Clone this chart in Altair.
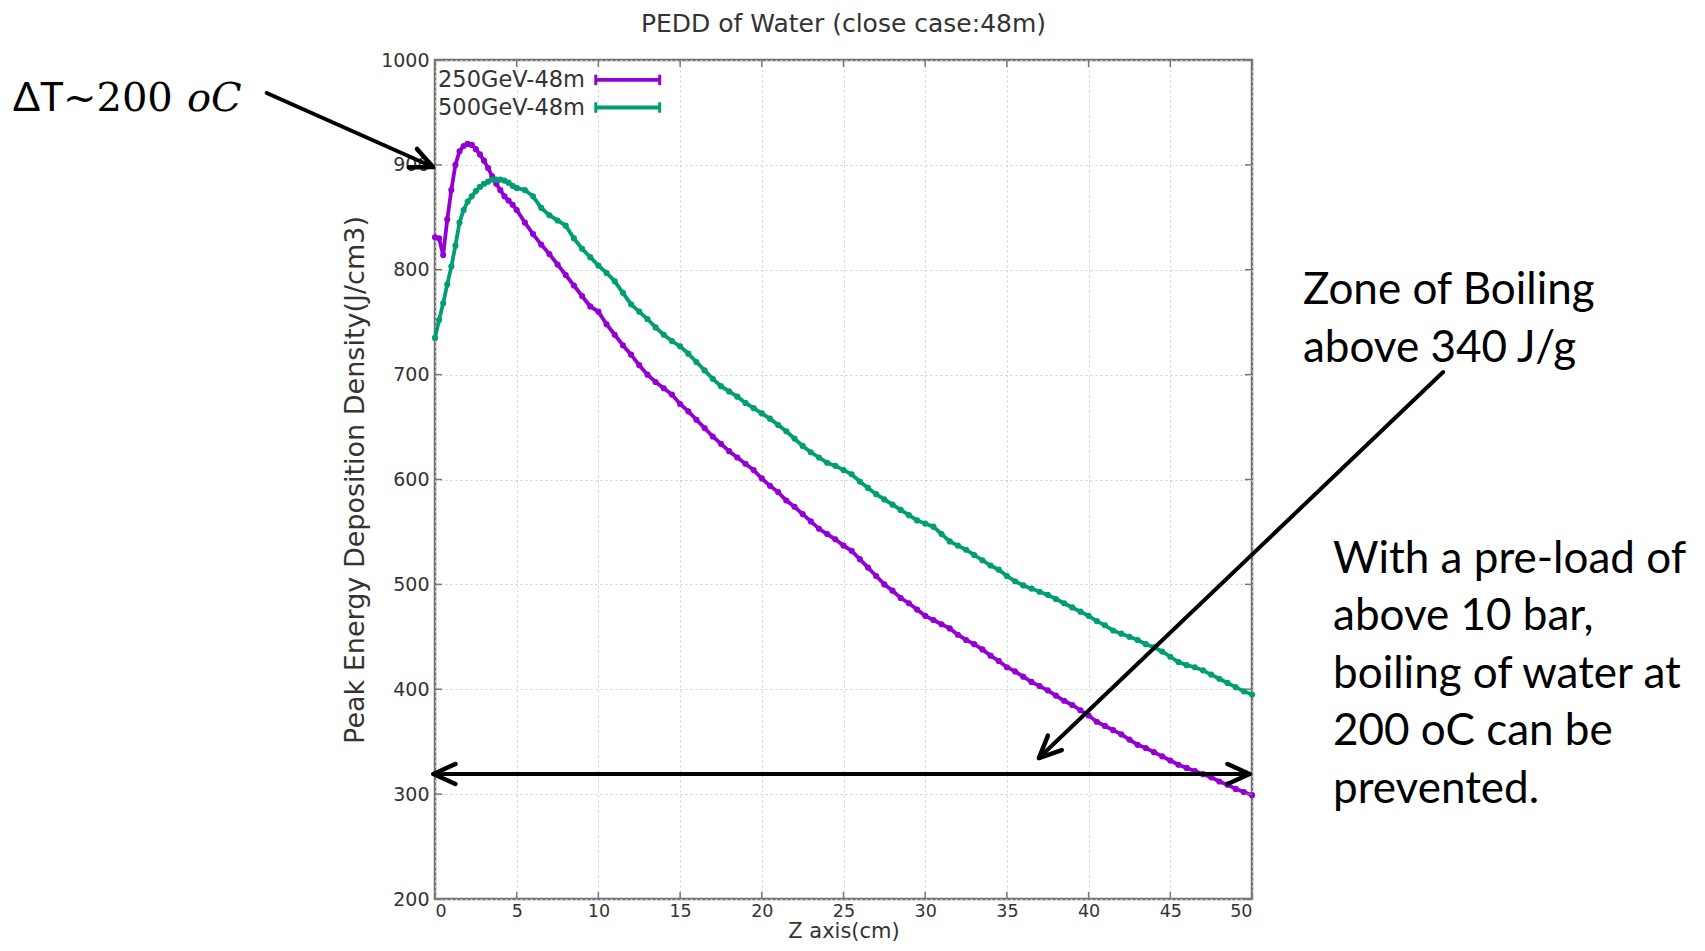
import math
import altair as alt
import pandas as pd

# ---------------- data ----------------
z_cm = [round(0.25 * i, 2) for i in range(21)] + [round(5.5 + 0.5 * i, 2) for i in range(90)]

pedd_250gev = [831, 830, 814, 848, 876, 900, 913, 918, 920, 919, 915, 910, 904, 897, 889, 882, 876, 870, 866, 862, 857,
               845, 834, 824, 815, 805, 795, 785, 775, 765, 760,
               748, 738, 728, 719, 709, 700, 693, 687, 681, 672, 665, 657, 649, 641, 634, 627, 621, 615, 609, 601,
               594, 588, 580, 574, 567, 560, 553, 548, 543, 537, 532, 524, 516, 508, 500, 494, 487, 482, 476, 470,
               466, 462, 458, 452, 447, 443, 438, 432, 427, 421, 417, 412, 407, 403, 399, 394, 389, 385, 380, 375,
               369, 365, 361, 357, 352, 347, 344, 340, 336, 332, 328, 325, 322, 319, 316, 312, 309, 305, 302, 299]

pedd_500gev = [735, 752, 768, 786, 803, 823, 845, 857, 865, 870, 875, 879, 882, 884, 886, 886, 886, 885, 883, 880, 878,
               876, 870, 859, 852, 847, 842, 830, 820, 812, 804,
               797, 789, 778, 767, 760, 753, 745, 738, 732, 727, 720, 712, 704, 696, 689, 684, 679, 673, 668, 663,
               658, 652, 646, 639, 632, 626, 621, 616, 613, 609, 605, 598, 592, 586, 581, 576, 571, 566, 561, 558,
               555, 548, 541, 537, 533, 528, 523, 518, 514, 508, 503, 499, 496, 493, 490, 486, 482, 478, 474, 470,
               465, 461, 456, 453, 450, 447, 443, 440, 436, 431, 426, 423, 421, 418, 414, 410, 406, 402, 398, 395]

series_names = ["250GeV-48m", "500GeV-48m"]
series_colors = ["#9400D3", "#009E73"]
x_ticks = [0, 5, 10, 15, 20, 25, 30, 35, 40, 45, 50]
y_ticks = [200, 300, 400, 500, 600, 700, 800, 900, 1000]

title_text = "PEDD of Water (close case:48m)"
x_title = "Z axis(cm)"
y_title = "Peak Energy Deposition Density(J/cm3)"

# annotation content (positions in data units of the chart's own axes)
note_boil = "Zone of Boiling\nabove 340 J/g"
note_preload = "With a pre-load of\nabove 10 bar,\nboiling of water at\n200 oC can be\nprevented."
arrows = [  # start (x, y) -> tip (x, y)
    {"id": "dT", "x": -10.3, "y": 968.5, "xt": -0.12, "yt": 898.0},
    {"id": "zone", "x": 61.7, "y": 702.5, "xt": 36.96, "yt": 334.4},
    {"id": "span_r", "x": 24.9, "y": 319.2, "xt": 49.85, "yt": 319.2},
    {"id": "span_l", "x": 24.9, "y": 319.2, "xt": -0.1, "yt": 319.2},
]

# ---------------- layout ----------------
W, H = 817, 839
X_DOM, Y_DOM = [0, 50], [200, 1000]
PX_X = W / (X_DOM[1] - X_DOM[0])
PX_Y = H / (Y_DOM[1] - Y_DOM[0])

xs = alt.Scale(domain=X_DOM, nice=False, zero=False)
ys = alt.Scale(domain=Y_DOM, nice=False, zero=False)
color = alt.Color("series:N", scale=alt.Scale(domain=series_names, range=series_colors), legend=None)

rows = []
for name, vals in zip(series_names, [pedd_250gev, pedd_500gev]):
    for z, v in zip(z_cm, vals):
        rows.append({"z": z, "pedd": v, "series": name})
df = pd.DataFrame(rows)

base = alt.Chart(df)
lines = base.mark_line(strokeWidth=3.8).encode(
    x=alt.X("z:Q", scale=xs,
            axis=alt.Axis(values=x_ticks, title=x_title, labelPadding=3, titleY=38,
                          titleBaseline="alphabetic", titleFontSize=21, labelFontSize=17.5)),
    y=alt.Y("pedd:Q", scale=ys,
            axis=alt.Axis(values=y_ticks, title=y_title, format="d", labelPadding=6, titlePadding=11,
                          titleFontSize=27, labelFontSize=19)),
    color=color,
)
points = base.mark_point(filled=True, size=38, opacity=1, strokeWidth=0).encode(
    x=alt.X("z:Q", scale=xs), y=alt.Y("pedd:Q", scale=ys), color=color)

# inward ticks like gnuplot (all four sides)
tick_len_x = 7 / PX_X
tick_len_y = 7 / PX_Y
trows = []
for t in x_ticks:
    trows.append({"x": t, "x2": t, "y": Y_DOM[0], "y2": Y_DOM[0] + tick_len_y})
    trows.append({"x": t, "x2": t, "y": Y_DOM[1], "y2": Y_DOM[1] - tick_len_y})
for t in y_ticks:
    trows.append({"x": X_DOM[0], "x2": X_DOM[0] + tick_len_x, "y": t, "y2": t})
    trows.append({"x": X_DOM[1], "x2": X_DOM[1] - tick_len_x, "y": t, "y2": t})
ticks = alt.Chart(pd.DataFrame(trows)).mark_rule(color="#777777", strokeWidth=1.5).encode(
    x=alt.X("x:Q", scale=xs), x2="x2:Q", y=alt.Y("y:Q", scale=ys), y2="y2:Q")

# chart title as text centred over the plot
title_df = pd.DataFrame({"txt": [title_text], "x": [sum(X_DOM) / 2], "y": [Y_DOM[1] + 28 / PX_Y]})
title_mark = alt.Chart(title_df).mark_text(align="center", baseline="alphabetic", font="DejaVu Sans",
                                           fontSize=25, color="#333333").encode(
    x=alt.X("x:Q", scale=xs), y=alt.Y("y:Q", scale=ys), text="txt:N")

# gnuplot-style key (label, then line sample with end caps)
leg = pd.DataFrame({"series": series_names, "lx": [9.18, 9.18], "ly": [981.0, 954.7],
                    "x1": [9.84, 9.84], "x2": [13.75, 13.75]})
leg_text = alt.Chart(leg).mark_text(align="right", baseline="middle", font="DejaVu Sans",
                                    fontSize=22.5, color="#333333").encode(
    x=alt.X("lx:Q", scale=xs), y=alt.Y("ly:Q", scale=ys), text="series:N")
leg_line = alt.Chart(leg).mark_rule(strokeWidth=3.8).encode(
    x=alt.X("x1:Q", scale=xs), x2="x2:Q", y=alt.Y("ly:Q", scale=ys), color=color)
caps = pd.concat([leg[["series", "x1", "ly"]].rename(columns={"x1": "cx"}),
                  leg[["series", "x2", "ly"]].rename(columns={"x2": "cx"})])
leg_caps = alt.Chart(caps).mark_point(shape="M0,-1L0,1", size=110, strokeWidth=3, filled=False,
                                      opacity=1).encode(
    x=alt.X("cx:Q", scale=xs), y=alt.Y("ly:Q", scale=ys), color=color)

# arrows
adf = pd.DataFrame(arrows)
adf["angle"] = [math.degrees(math.atan2(-(r["yt"] - r["y"]) * PX_Y, (r["xt"] - r["x"]) * PX_X)) % 360
                for _, r in adf.iterrows()]
shafts = alt.Chart(adf).mark_rule(color="black", strokeWidth=4, strokeCap="round").encode(
    x=alt.X("x:Q", scale=xs), y=alt.Y("y:Q", scale=ys), x2="xt:Q", y2="yt:Q")
heads = alt.Chart(adf).mark_point(shape="M-2.2,-1L0,0L-2.2,1", size=400, filled=False, color="black",
                                  strokeWidth=4.5, opacity=1, strokeCap="round", strokeJoin="round").encode(
    x=alt.X("xt:Q", scale=xs), y=alt.Y("yt:Q", scale=ys), angle=alt.Angle("angle:Q", scale=None))

# annotation texts
notes = pd.DataFrame({"txt": [note_boil, note_preload], "x": [53.12, 54.96], "y": [766.9, 510.9]})
note_marks = alt.Chart(notes).mark_text(align="left", baseline="alphabetic", font="Lato", fontSize=44,
                                        lineBreak="\n", lineHeight=57.5, color="black").encode(
    x=alt.X("x:Q", scale=xs), y=alt.Y("y:Q", scale=ys), text="txt:N")

dt_a = alt.Chart(pd.DataFrame({"txt": ["ΔT"], "x": [-25.83], "y": [951.4]})).mark_text(
    align="left", baseline="alphabetic", font="Lato", fontSize=40, color="black").encode(
    x=alt.X("x:Q", scale=xs), y=alt.Y("y:Q", scale=ys), text="txt:N")
dt_b = alt.Chart(pd.DataFrame({"txt": ["~200"], "x": [-22.77], "y": [951.4]})).mark_text(
    align="left", baseline="alphabetic", font="DejaVu Serif", fontSize=40, color="black").encode(
    x=alt.X("x:Q", scale=xs), y=alt.Y("y:Q", scale=ys), text="txt:N")
dt_c = alt.Chart(pd.DataFrame({"txt": ["oC"], "x": [-15.18], "y": [951.4]})).mark_text(
    align="left", baseline="alphabetic", font="DejaVu Serif", fontStyle="italic", fontSize=40,
    color="black").encode(
    x=alt.X("x:Q", scale=xs), y=alt.Y("y:Q", scale=ys), text="txt:N")

chart = alt.layer(
    lines, points, ticks, title_mark, leg_line, leg_caps, leg_text, shafts, heads, note_marks,
    dt_a, dt_b, dt_c
).properties(
    width=W, height=H,
    autosize=alt.AutoSizeParams(type="none"),
    padding={"left": 427, "top": 52, "right": 445, "bottom": 44},
).configure_view(
    stroke="#707070", strokeWidth=2.5
).configure_axis(
    domain=False, ticks=False, grid=True, gridDash=[2, 3], gridColor="#cfcfcf", gridWidth=1,
    labelFont="DejaVu Sans", labelColor="#333333", titleFont="DejaVu Sans", titleColor="#333333",
    titleFontWeight="normal",
)

chart.save("out.html", embed_options={"renderer": "svg", "actions": False})
